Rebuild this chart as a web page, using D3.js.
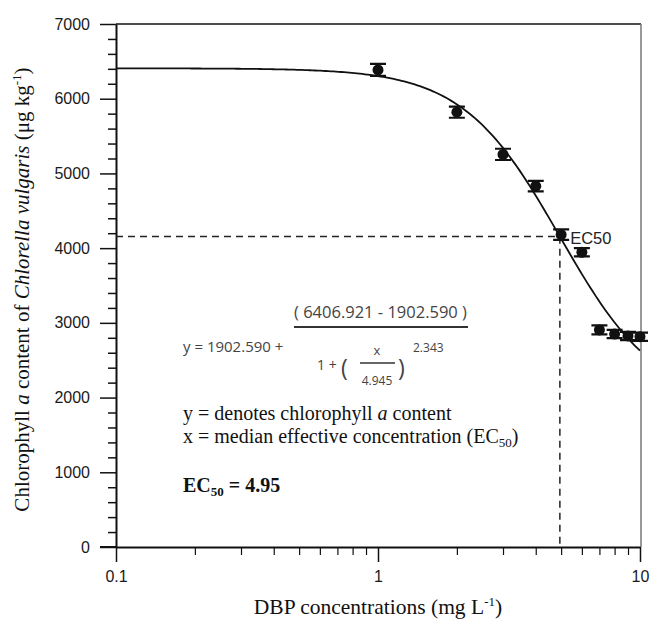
<!DOCTYPE html>
<html>
<head>
<meta charset="utf-8">
<script src="https://cdn.jsdelivr.net/npm/d3@7"></script>
<style>
  body { margin: 0; background: #fff; }
  .tick text { font-family: "Liberation Sans", Arial, sans-serif; font-size: 16px; fill: #1a1a1a; }
</style>
</head>
<body>
<script>
const width = 654;
const height = 624;
const margin = { left: 116, right: 13, top: 24, bottom: 77 };

// measured points
const concentrations = [1, 2, 3, 4, 5, 6, 7, 8, 9, 10];
const chlorophyll = [6385, 5820, 5255, 4830, 4180, 3945, 2905, 2850, 2825, 2815];
const errors = [80, 75, 75, 70, 70, 55, 60, 55, 55, 55];

// fitted logistic curve
const bottomVal = 1902.590, topVal = 6406.921, ec50 = 4.945, slope = 2.343;
const yTicks = [0, 1000, 2000, 3000, 4000, 5000, 6000, 7000];
const xTicks = [0.1, 1, 10];

const fit = x => bottomVal + (topVal - bottomVal) / (1 + Math.pow(x / ec50, slope));

const svg = d3.select("body")
    .append("svg")
    .attr("width", width)
    .attr("height", height)

const x = d3.scaleLog().domain([0.1, 10]).range([margin.left, width - margin.right - 1])
const y = d3.scaleLinear().domain([0, 7000]).range([height - margin.bottom, margin.top])

// frame: top + right
svg.append("line")
    .attr("x1", x(0.1)).attr("x2", x(10) + 1)
    .attr("y1", y(7000)).attr("y2", y(7000))
    .attr("stroke", "#111").attr("stroke-width", 1.5)
svg.append("line")
    .attr("x1", x(10) + 1).attr("x2", x(10) + 1)
    .attr("y1", y(7000)).attr("y2", y(0))
    .attr("stroke", "#777").attr("stroke-width", 1.5)

// y axis with minor ticks
const yMinor = d3.range(0, 7001, 200).filter(v => v % 1000 !== 0)
svg.append("g")
    .attr("transform", `translate(${margin.left},0)`)
    .call(d3.axisLeft(y).tickValues(yMinor).tickSize(8).tickFormat(""))
    .call(g => g.select(".domain").remove())
    .selectAll("line").attr("stroke", "#111").attr("stroke-width", 1.5)
svg.append("g")
    .attr("transform", `translate(${margin.left},0)`)
    .call(d3.axisLeft(y).tickValues(yTicks).tickSize(16).tickPadding(10).tickSizeOuter(0)
        .tickFormat(d3.format("d")))
    .call(g => g.select(".domain").attr("stroke", "#111").attr("stroke-width", 2))
    .call(g => g.selectAll("line").attr("stroke", "#111").attr("stroke-width", 1.5))

// x axis with minor ticks
const xMinor = [2, 3, 4, 5, 6, 7, 8, 9].flatMap(d => [d * 0.1, d])
svg.append("g")
    .attr("transform", `translate(0,${y(0)})`)
    .call(d3.axisBottom(x).tickValues(xMinor).tickSize(8).tickFormat(""))
    .call(g => g.select(".domain").remove())
    .selectAll("line").attr("stroke", "#111").attr("stroke-width", 1.2)
svg.append("g")
    .attr("transform", `translate(0,${y(0)})`)
    .call(d3.axisBottom(x).tickValues(xTicks).tickSize(15).tickPadding(9).tickSizeOuter(0)
        .tickFormat(d => d3.format("~g")(d)))
    .call(g => g.select(".domain").attr("stroke", "#111").attr("stroke-width", 2))
    .call(g => g.selectAll("line").attr("stroke", "#111").attr("stroke-width", 1.5))

// extend x axis line left to meet the 0 tick
svg.append("line")
    .attr("x1", margin.left - 16).attr("x2", margin.left)
    .attr("y1", y(0)).attr("y2", y(0))
    .attr("stroke", "#111").attr("stroke-width", 2)

// EC50 dashed guides
const half = (topVal + bottomVal) / 2
svg.append("path")
    .attr("d", `M${x(0.1)},${y(half)}H${x(ec50)}V${y(0)}`)
    .attr("fill", "none")
    .attr("stroke", "#222")
    .attr("stroke-width", 1.5)
    .attr("stroke-dasharray", "7,5")

// fitted curve
const curveX = d3.range(0, 201).map(i => Math.pow(10, -1 + i / 100))
svg.append("path")
    .datum(curveX)
    .attr("d", d3.line().x(d => x(d)).y(d => y(fit(d))))
    .attr("fill", "none")
    .attr("stroke", "#111")
    .attr("stroke-width", 1.8)

// error bars and points
const pts = concentrations.map((c, i) => ({ c, v: chlorophyll[i], e: errors[i] }))
const eb = svg.append("g").attr("stroke", "#111").attr("stroke-width", 2.2)
eb.selectAll(".err").data(pts).join("path")
    .attr("class", "err")
    .attr("fill", "none")
    .attr("d", d => {
        const cx = x(d.c), t = y(d.v + d.e), b = y(d.v - d.e)
        return `M${cx - 8},${t}H${cx + 8}M${cx},${t}V${b}M${cx - 8},${b}H${cx + 8}`
    })
svg.selectAll(".dot").data(pts).join("circle")
    .attr("class", "dot")
    .attr("cx", d => x(d.c))
    .attr("cy", d => y(d.v))
    .attr("r", 5.5)
    .attr("fill", "#111")

svg.append("text")
    .attr("x", x(5) + 9).attr("y", y(4180) + 9)
    .attr("font-family", "Liberation Sans, Arial, sans-serif")
    .attr("font-size", 16.5).attr("fill", "#222")
    .text("EC50")

// equation (gray sans)
const eq = svg.append("g")
    .attr("font-family", "Open Sans, Noto Sans, sans-serif")
    .attr("fill", "#444")
eq.append("text").attr("x", 183).attr("y", 352).attr("font-size", 15).text("y = 1902.590 +")
eq.append("text").attr("x", 294).attr("y", 318).attr("font-size", 16.5).text("( 6406.921 - 1902.590 )")
eq.append("line").attr("x1", 294).attr("x2", 468).attr("y1", 327).attr("y2", 327)
    .attr("stroke", "#333").attr("stroke-width", 2)
eq.append("text").attr("x", 317).attr("y", 370).attr("font-size", 14).text("1 +")
eq.append("text").attr("x", 341).attr("y", 376).attr("font-size", 23).text("(")
eq.append("text").attr("x", 377).attr("y", 355).attr("font-size", 13).attr("text-anchor", "middle").text("x")
eq.append("line").attr("x1", 360).attr("x2", 395).attr("y1", 363).attr("y2", 363)
    .attr("stroke", "#333").attr("stroke-width", 1.3)
eq.append("text").attr("x", 377).attr("y", 385).attr("font-size", 12).attr("text-anchor", "middle").text("4.945")
eq.append("text").attr("x", 398).attr("y", 376).attr("font-size", 23).text(")")
eq.append("text").attr("x", 413).attr("y", 352).attr("font-size", 12).text("2.343")

// notes (serif)
const notes = svg.append("g")
    .attr("font-family", "Liberation Serif, Times New Roman, serif")
    .attr("font-size", 20).attr("fill", "#111")
notes.append("text").attr("x", 183).attr("y", 420)
    .call(t => {
        t.append("tspan").text("y = denotes chlorophyll ")
        t.append("tspan").attr("font-style", "italic").text("a")
        t.append("tspan").text(" content")
    })
notes.append("text").attr("x", 183).attr("y", 443)
    .call(t => {
        t.append("tspan").text("x = median effective concentration (EC")
        t.append("tspan").attr("font-size", 13).attr("dy", 4).text("50")
        t.append("tspan").attr("dy", -4).text(")")
    })
notes.append("text").attr("x", 183).attr("y", 492).attr("font-weight", "bold")
    .call(t => {
        t.append("tspan").text("EC")
        t.append("tspan").attr("font-size", 13).attr("dy", 4).text("50")
        t.append("tspan").attr("dy", -4).text(" = 4.95")
    })

// axis titles
svg.append("text")
    .attr("x", x(1)).attr("y", 614)
    .attr("text-anchor", "middle")
    .attr("font-family", "Liberation Serif, Times New Roman, serif")
    .attr("font-size", 21.5).attr("fill", "#111")
    .call(t => {
        t.append("tspan").text("DBP concentrations (mg L")
        t.append("tspan").attr("font-size", 13).attr("dy", -8).text("-1")
        t.append("tspan").attr("dy", 8).text(")")
    })

svg.append("text")
    .attr("transform", `translate(29,${(margin.top + y(0)) / 2 + 4}) rotate(-90)`)
    .attr("text-anchor", "middle")
    .attr("font-family", "Liberation Serif, Times New Roman, serif")
    .attr("font-size", 21).attr("fill", "#111")
    .call(t => {
        t.append("tspan").text("Chlorophyll ")
        t.append("tspan").attr("font-style", "italic").text("a")
        t.append("tspan").text(" content of ")
        t.append("tspan").attr("font-style", "italic").text("Chlorella vulgaris")
        t.append("tspan").text(" (μg kg")
        t.append("tspan").attr("font-size", 13).attr("dy", -8).text("-1")
        t.append("tspan").attr("dy", 8).text(")")
    })
</script>
</body>
</html>
